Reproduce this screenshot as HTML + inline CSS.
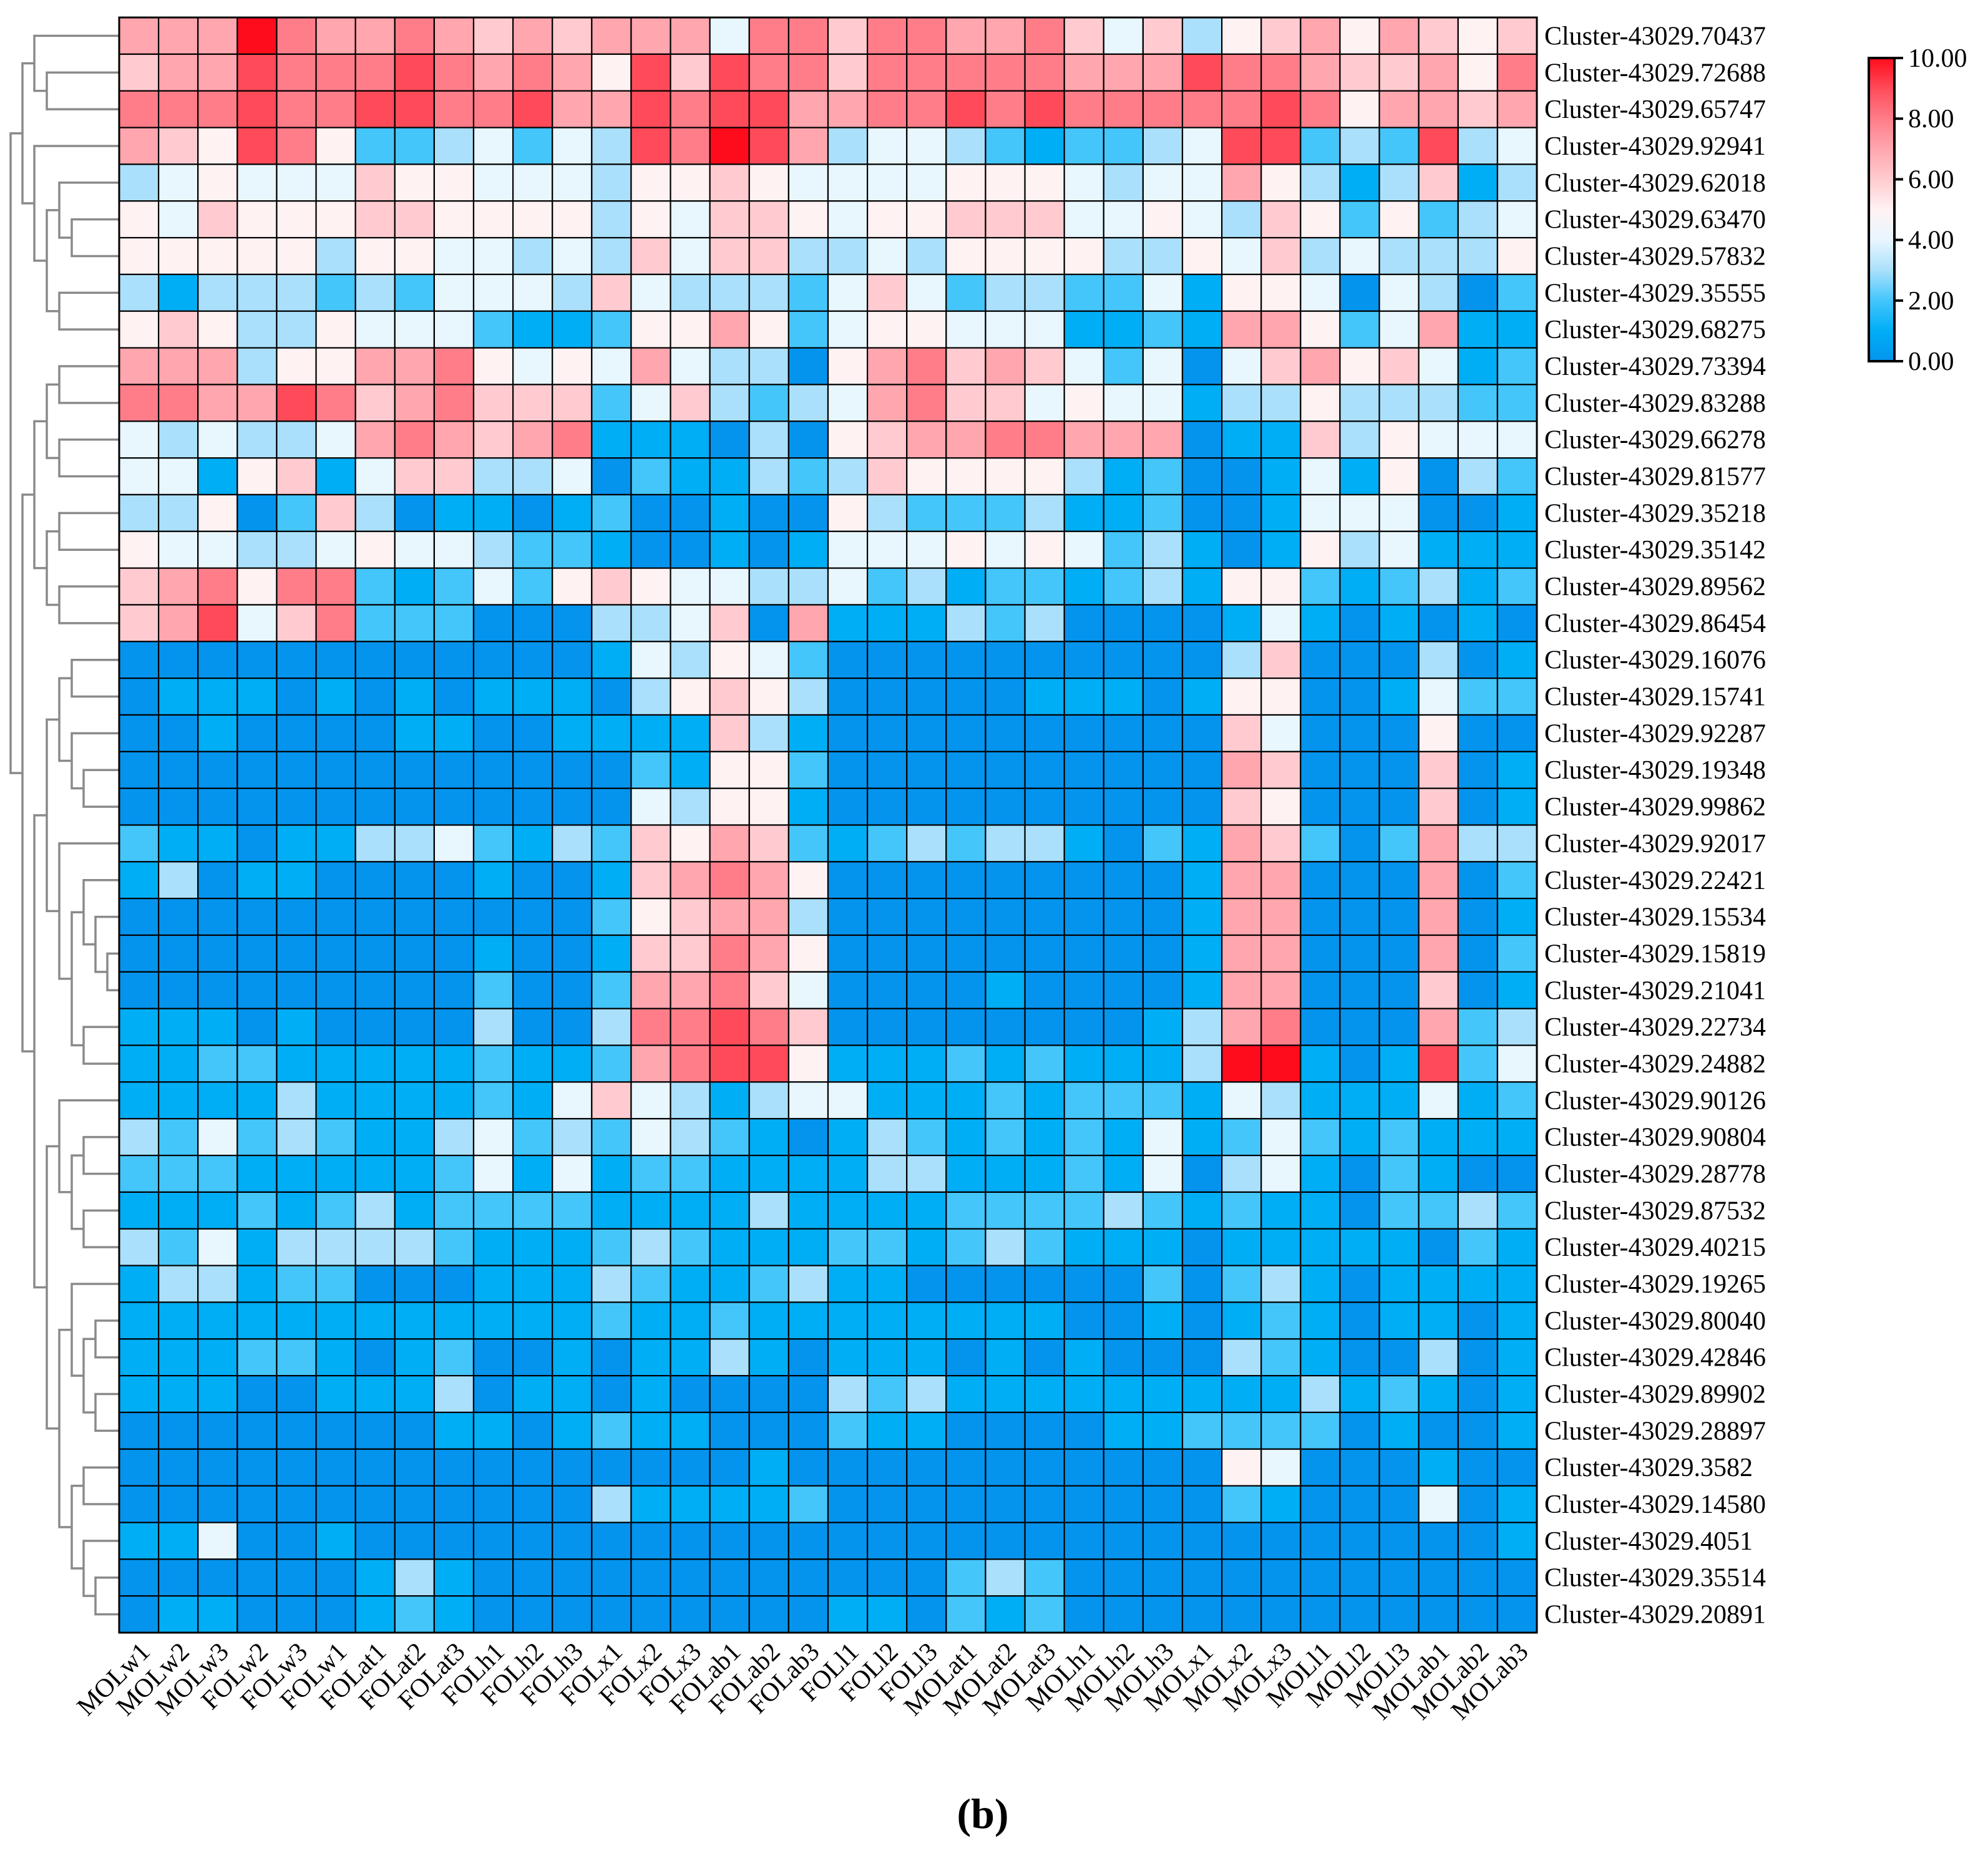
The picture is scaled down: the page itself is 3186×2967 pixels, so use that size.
<!DOCTYPE html>
<html><head><meta charset="utf-8"><style>
html,body{margin:0;padding:0;background:#fff;}
svg{display:block;}
text{font-family:"Liberation Serif",serif;fill:#000;}
</style></head><body>
<svg id="chart" width="3186" height="2967" viewBox="0 0 3186 2967" xmlns="http://www.w3.org/2000/svg">
<rect width="3186" height="2967" fill="#fff"/>
<g id="dendro"></g>
<g id="cells"></g>
<g id="rowlabels"></g>
<g id="collabels"></g>
<g id="legend"></g>
<text x="1575" y="2930" text-anchor="middle" font-size="68" font-weight="bold">(b)</text>
</svg>
<script>
const rowNames = ["70437","72688","65747","92941","62018","63470","57832","35555","68275","73394","83288","66278","81577","35218","35142","89562","86454","16076","15741","92287","19348","99862","92017","22421","15534","15819","21041","22734","24882","90126","90804","28778","87532","40215","19265","80040","42846","89902","28897","3582","14580","4051","35514","20891"];
const colNames = ["MOLw1","MOLw2","MOLw3","FOLw2","FOLw3","FOLw1","FOLat1","FOLat2","FOLat3","FOLh1","FOLh2","FOLh3","FOLx1","FOLx2","FOLx3","FOLab1","FOLab2","FOLab3","FOLl1","FOLl2","FOLl3","MOLat1","MOLat2","MOLat3","MOLh1","MOLh2","MOLh3","MOLx1","MOLx2","MOLx3","MOLl1","MOLl2","MOLl3","MOLab1","MOLab2","MOLab3"];
const legendTicks = [0,2,4,6,8,10];
const values = [
[7,7,7,10,8,7,7,8,7,6,7,6,7,7,7,4,8,8,6,8,8,7,7,8,6,4,6,3,5,6,7,5,7,6,5,6],
[6,7,7,9,8,8,8,9,8,7,8,7,5,9,6,9,8,8,6,8,8,8,8,8,7,7,7,9,8,8,7,6,6,7,5,8],
[8,8,8,9,8,8,9,9,8,8,9,7,7,9,8,9,9,7,7,8,8,9,8,9,8,8,8,8,8,9,8,5,7,7,6,7],
[7,6,5,9,8,5,2,2,3,4,2,4,3,9,8,10,9,7,3,4,4,3,2,1,2,2,3,4,9,9,2,3,2,9,3,4],
[3,4,5,4,4,4,6,5,5,4,4,4,3,5,5,6,5,4,4,4,4,5,5,5,4,3,4,4,7,5,3,1,3,6,1,3],
[5,4,6,5,5,5,6,6,5,5,5,5,3,5,4,6,6,5,4,5,5,6,6,6,4,4,5,4,3,6,5,2,5,2,3,4],
[5,5,5,5,5,3,5,5,4,4,3,4,3,6,4,6,6,3,3,4,3,5,5,5,5,3,3,5,4,6,3,4,3,3,3,5],
[3,1,3,3,3,2,3,2,4,4,4,3,6,4,3,3,3,2,4,6,4,2,3,3,2,2,4,1,5,5,4,0,4,3,0,2],
[5,6,5,3,3,5,4,4,4,2,1,1,2,5,5,7,5,2,4,5,5,4,4,4,1,1,2,1,7,7,5,2,4,7,1,1],
[7,7,7,3,5,5,7,7,8,5,4,5,4,7,4,3,3,0,5,7,8,6,7,6,4,2,4,0,4,6,7,5,6,4,1,2],
[8,8,7,7,9,8,6,7,8,6,6,6,2,4,6,3,2,3,4,7,8,6,6,4,5,4,4,1,3,3,5,3,3,3,2,2],
[4,3,4,3,3,4,7,8,7,6,7,8,1,1,1,0,3,0,5,6,7,7,8,8,7,7,7,0,1,1,6,3,5,4,4,4],
[4,4,1,5,6,1,4,6,6,3,3,4,0,2,1,1,3,2,3,6,5,5,5,5,3,1,2,0,0,1,4,1,5,0,3,2],
[3,3,5,0,2,6,3,0,1,1,0,1,2,0,0,1,0,0,5,3,2,2,2,3,1,1,2,0,0,1,4,4,4,0,0,1],
[5,4,4,3,3,4,5,4,4,3,2,2,1,0,0,1,0,1,4,4,4,5,4,5,4,2,3,1,0,1,5,3,4,1,1,1],
[6,7,8,5,8,8,2,1,2,4,2,5,6,5,4,4,3,3,4,2,3,1,2,2,1,2,3,1,5,5,2,1,2,3,1,2],
[6,7,9,4,6,8,2,2,2,0,0,0,3,3,4,6,0,7,1,1,1,3,2,3,0,0,0,0,1,4,1,0,1,0,1,0],
[0,0,0,0,0,0,0,0,0,0,0,0,1,4,3,5,4,2,0,0,0,0,0,0,0,0,0,0,3,6,0,0,0,3,0,1],
[0,1,1,1,0,1,0,1,0,1,1,1,0,3,5,6,5,3,0,0,0,0,0,1,1,1,0,1,5,5,0,0,1,4,2,2],
[0,0,1,0,0,0,0,1,1,0,0,1,1,1,1,6,3,1,0,0,0,0,0,0,0,0,0,0,6,4,0,0,0,5,0,0],
[0,0,0,0,0,0,0,0,0,0,0,0,0,2,1,5,5,2,0,0,0,0,0,0,0,0,0,0,7,6,0,0,0,6,0,1],
[0,0,0,0,0,0,0,0,0,0,0,0,0,4,3,5,5,1,0,0,0,0,0,0,0,0,0,0,6,5,0,0,0,6,0,1],
[2,1,1,0,1,1,3,3,4,2,1,3,2,6,5,7,6,2,1,2,3,2,3,3,1,0,2,1,7,6,2,0,2,7,3,3],
[1,3,0,1,1,0,0,0,0,1,0,0,1,6,7,8,7,5,0,0,0,0,0,0,0,0,0,1,7,7,0,0,0,7,0,2],
[0,0,0,0,0,0,0,0,0,0,0,0,2,5,6,7,7,3,0,0,0,0,0,0,0,0,0,1,7,7,0,0,0,7,0,1],
[0,0,0,0,0,0,0,0,0,1,0,0,1,6,6,8,7,5,0,0,0,0,0,0,0,0,0,1,7,7,0,0,0,7,0,2],
[0,0,0,0,0,0,0,0,0,2,0,0,2,7,7,8,6,4,0,0,0,0,1,0,0,0,0,1,7,7,0,0,0,6,0,1],
[1,1,1,0,1,0,0,0,0,3,0,0,3,8,8,9,8,6,0,0,0,0,0,0,0,0,1,3,7,8,0,0,0,7,2,3],
[1,1,2,2,1,1,1,1,1,2,1,1,2,7,8,9,9,5,1,1,1,2,1,2,1,1,1,3,10,10,1,0,1,9,2,4],
[1,1,1,1,3,1,1,1,1,2,1,4,6,4,3,1,3,4,4,1,1,1,2,1,2,2,2,1,4,3,1,1,1,4,1,2],
[3,2,4,2,3,2,1,1,3,4,2,3,2,4,3,2,1,0,1,3,2,1,2,1,2,1,4,1,2,4,2,1,2,1,1,1],
[2,2,2,1,1,1,1,1,2,4,1,4,1,2,2,1,1,1,1,3,3,1,1,1,2,1,4,0,3,4,1,0,2,1,0,0],
[1,1,1,2,1,2,3,1,2,2,2,2,1,1,1,1,3,1,1,1,1,2,2,2,2,3,2,1,2,1,1,0,2,2,3,2],
[3,2,4,1,3,3,3,3,2,1,1,1,2,3,2,1,1,1,2,2,1,2,3,2,1,1,1,0,1,1,1,1,1,0,2,1],
[1,3,3,1,2,2,0,0,0,1,1,1,3,2,1,1,2,3,1,1,0,0,0,0,0,0,2,0,2,3,1,0,1,1,1,1],
[1,1,1,1,1,1,1,1,1,1,1,1,2,1,1,2,1,1,1,1,1,1,1,1,0,0,1,0,1,2,1,0,1,1,0,1],
[1,1,1,2,2,1,0,1,2,0,0,1,0,1,1,3,1,0,1,1,1,0,1,0,1,0,0,0,3,2,1,0,0,3,0,1],
[1,1,1,0,0,1,1,1,3,0,1,1,0,1,0,0,0,0,3,2,3,1,1,1,1,1,1,1,1,1,3,1,2,1,0,1],
[0,0,0,0,0,0,0,0,1,1,0,1,2,1,1,0,0,0,2,1,1,0,0,0,0,1,1,2,2,2,2,0,1,0,0,1],
[0,0,0,0,0,0,0,0,0,0,0,0,0,0,0,0,1,0,0,0,0,0,0,0,0,0,0,0,5,4,0,0,0,1,0,0],
[0,0,0,0,0,0,0,0,0,0,0,0,3,1,1,1,1,2,0,0,0,0,0,0,0,0,0,0,2,1,0,0,0,4,0,1],
[1,1,4,0,0,1,0,0,0,0,0,0,0,0,0,0,0,0,0,0,0,0,0,0,0,0,0,0,0,0,0,0,0,0,0,1],
[0,0,0,0,0,0,1,3,1,0,0,0,0,0,0,0,0,0,0,0,0,2,3,2,0,0,0,0,0,0,0,0,0,0,0,0],
[0,1,1,0,0,0,1,2,1,0,0,0,0,0,0,0,0,0,1,1,0,2,1,2,0,0,0,0,0,0,0,0,0,0,0,0]
];
const tree = [0,
  [1,[2,0,[3,1,2]],[2,3,[3,[4,4,[5,5,6]],[4,7,8]]]],
  [1,
    [2,[3,[4,9,10],[4,11,12]],[3,[4,13,14],[4,15,16]]],
    [2,
      [3,[4,[5,17,18],[5,19,[6,20,21]]],[4,22,[5,[6,23,[7,24,[8,25,26]]],[6,27,28]]]],
      [3,[4,29,[5,[6,30,31],[6,32,33]]],[4,[5,34,[6,[7,35,36],[7,37,38]]],[5,[6,39,40],[6,41,[7,42,43]]]]]
    ]
  ]
];

const NS="http://www.w3.org/2000/svg";
const X0=191, X1=2463, Y0=28, Y1=2617;
const CW=(X1-X0)/colNames.length, CH=(Y1-Y0)/rowNames.length;
function xScale(c){return X0+c*CW;}
function yScale(r){return Y0+r*CH;}
const anchors=["#0494ee","#00aef6","#44c6fb","#aae0fc","#e8f6fe","#fff2f3","#ffcbd0","#ffa6ae","#ff7d89","#ff4b59","#ff0c1c"];
function hex(h){return [parseInt(h.slice(1,3),16),parseInt(h.slice(3,5),16),parseInt(h.slice(5,7),16)];}
function color(v){v=Math.max(0,Math.min(10,v));const i=Math.min(9,Math.floor(v));const t=v-i;const a=hex(anchors[i]),b=hex(anchors[i+1]);
 return "rgb("+a.map((x,k)=>Math.round(x+(b[k]-x)*t)).join(",")+")";}
function mk(tag,attrs,parent){const e=document.createElementNS(NS,tag);for(const k in attrs)e.setAttribute(k,attrs[k]);parent.appendChild(e);return e;}

const cells=document.getElementById('cells');
values.forEach((row,r)=>row.forEach((v,c)=>{
  const e=mk('rect',{x:xScale(c),y:yScale(r),width:CW,height:CH,fill:color(v),stroke:"#000","stroke-width":2.2},cells);
  
  
}));
const border=mk('rect',{x:X0,y:Y0,width:X1-X0,height:Y1-Y0,fill:"none",stroke:"#000","stroke-width":3},cells);



const rl=document.getElementById('rowlabels');
rowNames.forEach((n,r)=>{
  const t=mk('text',{x:2475,y:yScale(r+0.5)+14,"font-size":42},rl);
  t.textContent="Cluster-43029."+n;
  
  
});
const cl=document.getElementById('collabels');
colNames.forEach((n,c)=>{
  const x=xScale(c+0.5)+20, y=2650;
  const t=mk('text',{x:x,y:y,"font-size":42,"text-anchor":"end",transform:"rotate(-45 "+x+" "+y+")"},cl);
  t.textContent=n;
  
  
});

const levelX=[17,36,55,75,95,115,134,153,172];
const dg=document.getElementById('dendro');
function draw(node){
  if(typeof node==="number") return {x:X0,y:yScale(node+0.5)};
  const a=draw(node[1]), b=draw(node[2]); const x=levelX[node[0]];
  const p=mk('path',{d:"M"+a.x+" "+a.y+"H"+x+"V"+b.y+"H"+b.x,fill:"none",stroke:"#8a8a8a","stroke-width":3.5},dg);
  
  
  return {x:x,y:(a.y+b.y)/2};
}
draw(tree);

const lg=document.getElementById('legend');
const LX=2995, LW=41, LT=93, LB=579;
const defs=mk('defs',{},lg);
const grad=mk('linearGradient',{id:"lgGrad",x1:0,y1:1,x2:0,y2:0},defs);
anchors.forEach((c,i)=>mk('stop',{offset:(i/10),"stop-color":c},grad));
const lr=mk('rect',{x:LX,y:LT,width:LW,height:LB-LT,fill:"url(#lgGrad)",stroke:"#000","stroke-width":4},lg);


legendTicks.forEach(v=>{
  const y=LB-(LB-LT)*v/10;
  const l=mk('line',{x1:LX+LW,x2:LX+LW+14,y1:y,y2:y,stroke:"#000","stroke-width":4},lg);
  
  
  const t=mk('text',{x:LX+LW+22,y:y+14,"font-size":42},lg);
  t.textContent=v.toFixed(2);
  
  
});
</script>
</body></html>
